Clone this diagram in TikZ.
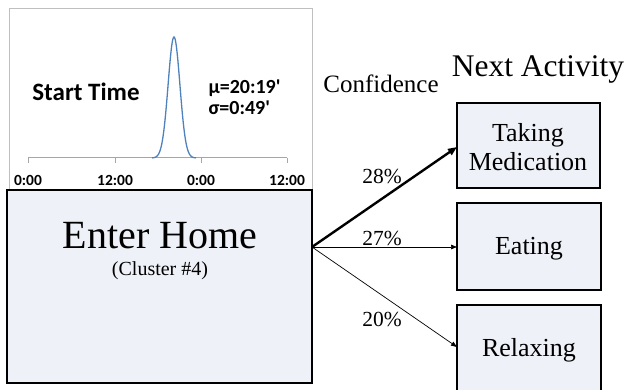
\documentclass[tikz,border=0pt]{standalone}
\usepackage{fontspec}
\setmainfont{Liberation Serif}
\newfontfamily\chartfont{Carlito}
\usetikzlibrary{arrows.meta}
\definecolor{boxfill}{HTML}{EEF1F7}
\definecolor{framegray}{HTML}{BFBFBF}
\definecolor{curveblue}{HTML}{4F81BD}
\tikzset{
  actbox/.style={draw=black, line width=1.4pt, fill=boxfill},
  ticklabel/.style={font=\chartfont\bfseries\fontsize{15.5}{18}\selectfont},
  link/.style={-{Triangle[length=6pt,width=4.5pt]}, line width=0.7pt},
  strong/.style={-{Triangle[length=9pt,width=7pt]}, line width=2.4pt},
  pct/.style={font=\fontsize{21.5}{24}\selectfont},
  acttext/.style={font=\fontsize{26}{29}\selectfont, align=center},
}
\begin{document}
\begin{tikzpicture}[x=1pt,y=-1pt]
\useasboundingbox (0,0) rectangle (629,390);
\begin{scope}
\clip (0,0) rectangle (629,390);
% chart frame
\draw[framegray, line width=0.8pt] (9,8) rectangle (312,200);
% time axis with ticks
\draw[gray!70, line width=1pt] (28,158) -- (287,158);
\foreach \x in {28,115,201,287} \draw[gray!70, line width=1pt] (\x,158) -- (\x,163);
\node[ticklabel] (t0) at (28,180) {0:00};
\node[ticklabel] (t1) at (115,180) {12:00};
\node[ticklabel] (t2) at (201,180) {0:00};
\node[ticklabel] (t3) at (287,180) {12:00};
% start-time distribution
\draw[curveblue, line width=1.3pt, domain=-22:22, samples=90, smooth]
  plot ({174+\x}, {158-121*exp(-(\x*\x)/(2*5.9*5.9))});
\node[font=\chartfont\bfseries\fontsize{25}{28}\selectfont] (st) at (86,92) {Start Time};
\node[font=\chartfont\bfseries\fontsize{20}{23}\selectfont, anchor=west] (mu) at (205,88) {μ=20:19'};
\node[font=\chartfont\bfseries\fontsize{20}{23}\selectfont, anchor=west] (sg) at (205,108) {σ=0:49'};
% activity boxes
\draw[actbox] (7,190) rectangle (312,383);
\coordinate (src) at (312,247);
\node (eh) at (160,236) {\fontsize{40}{44}\selectfont Enter Home};
\node (cl) at (160,271) {\fontsize{20}{23}\selectfont (Cluster \#4)};
\draw[actbox] (457,103) rectangle (600,188);
\node[acttext] (tm) at (528,147) {Taking\\Medication};
\draw[actbox] (457,203) rectangle (601,290);
\node[acttext] (ea) at (529,249) {Eating};
\draw[actbox] (457,305) rectangle (601,400);
\node[acttext] (re) at (529,350) {Relaxing};
% headings
\node[font=\fontsize{31.5}{34}\selectfont] (na) at (538,69) {Next Activity};
\node[font=\fontsize{25}{28}\selectfont] (cf) at (381,84) {Confidence};
% transitions
\coordinate (tmIn) at (457,147);
\coordinate (eaIn) at (457,247);
\coordinate (reIn) at (457,347);
\draw[strong] (src) -- (tmIn);
\draw[link] (src) -- (eaIn);
\draw[link] (src) -- (reIn);
\node[pct] (p1) at (382,176) {28\%};
\node[pct] (p2) at (382,238) {27\%};
\node[pct] (p3) at (382,319) {20\%};
\end{scope}
\end{tikzpicture}
\end{document}
